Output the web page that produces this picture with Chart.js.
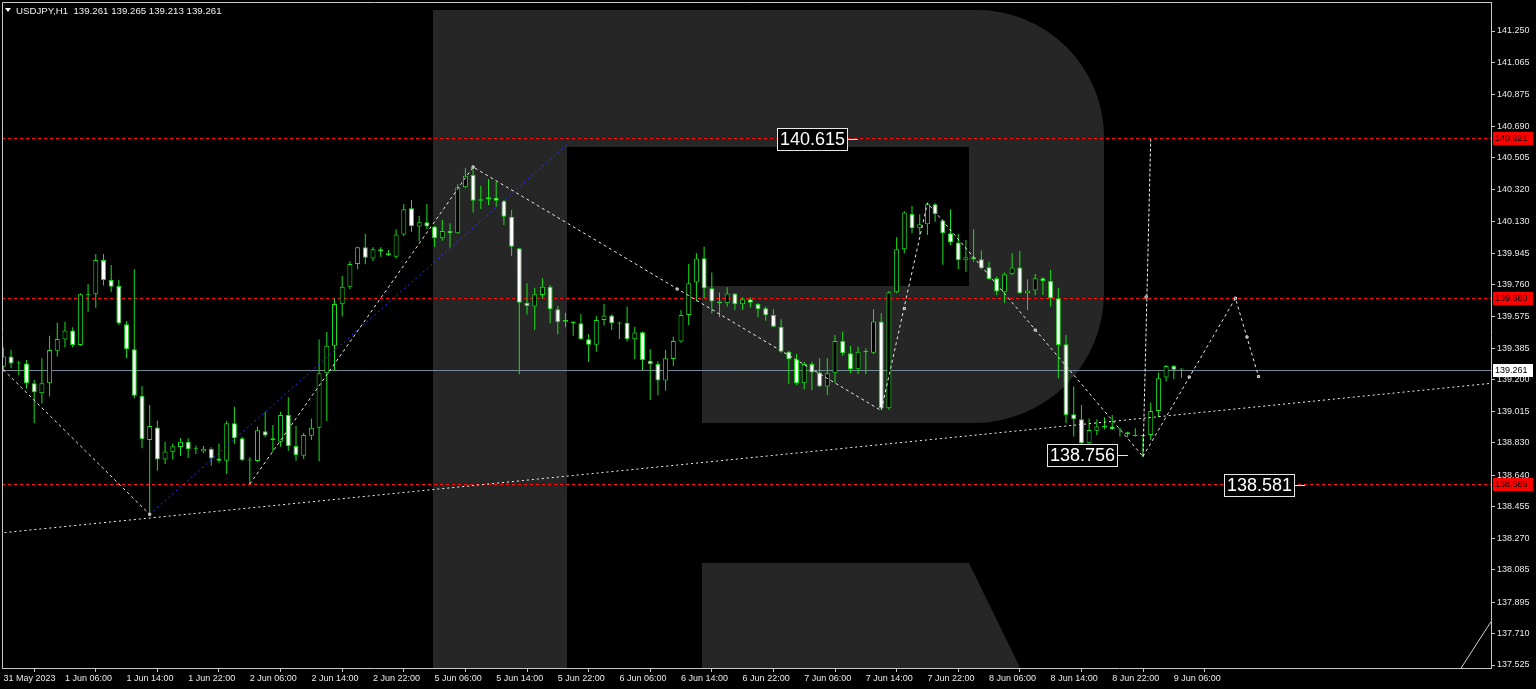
<!DOCTYPE html>
<html>
<head>
<meta charset="utf-8">
<title>USDJPY,H1</title>
<script src="https://cdn.jsdelivr.net/npm/chart.js@4.4.0/dist/chart.umd.min.js"></script>
<style>
  html, body { margin: 0; padding: 0; background: #000; overflow: hidden; }
</style>
</head>
<body>
<canvas id="priceChart" width="1536" height="689"></canvas>
<script>
// H1 candles, bar 0 = 31 May 22:00 (weekend bars skipped)
const open = [
139.278,139.337,139.297,139.297,139.180,139.121,139.180,139.372,139.438,139.491,
139.405,139.703,139.703,139.904,139.787,139.752,139.527,139.380,139.107,138.847,
138.921,138.733,138.778,138.806,138.837,138.794,138.780,138.794,138.739,138.725,
138.945,138.857,138.729,138.724,138.898,138.857,138.837,138.994,138.812,138.755,
138.872,138.919,139.239,139.401,139.644,139.748,139.881,139.979,139.914,139.967,
139.944,139.924,140.055,140.208,140.102,140.126,140.101,140.032,140.075,140.061,
140.332,140.404,140.261,140.261,140.271,140.253,140.159,139.973,139.654,139.631,
139.699,139.748,139.615,139.542,139.540,139.533,139.439,139.407,139.552,139.578,
139.536,139.536,139.439,139.480,139.313,139.294,139.196,139.323,139.425,139.582,
139.772,139.915,139.738,139.660,139.650,139.707,139.644,139.674,139.646,139.621,
139.582,139.513,139.366,139.321,139.180,139.294,139.243,139.161,139.239,139.429,
139.357,139.263,139.366,139.360,139.543,139.033,139.715,139.967,140.175,140.091,
140.115,140.232,140.136,140.062,140.007,139.903,139.921,139.909,139.862,139.797,
139.715,139.821,139.860,139.709,139.725,139.797,139.781,139.680,139.409,138.998,
138.969,138.828,138.902,138.924,138.926,138.910,138.892,138.873,138.871,138.877,
139.018,139.214,139.282,139.261
];
const high = [
139.391,139.376,139.311,139.317,139.199,139.327,139.460,139.538,139.542,139.509,
139.709,139.763,139.940,139.940,139.875,139.787,139.546,139.850,139.164,139.053,
138.961,138.837,138.827,138.857,138.857,138.814,138.812,138.804,138.827,138.959,
139.043,138.866,138.745,138.925,139.013,138.935,139.013,139.098,138.929,138.890,
138.974,139.438,139.481,139.679,139.811,139.899,139.983,140.057,139.979,139.979,
139.963,140.085,140.234,140.257,140.165,140.234,140.104,140.140,140.120,140.349,
140.443,140.457,140.341,140.381,140.365,140.257,140.198,139.973,139.768,139.742,
139.797,139.758,139.634,139.595,139.546,139.587,139.468,139.576,139.646,139.586,
139.542,139.630,139.513,139.484,139.380,139.311,139.376,139.454,139.611,139.881,
139.944,139.983,139.831,139.713,139.744,139.709,139.685,139.685,139.650,139.631,
139.615,139.556,139.372,139.352,139.307,139.307,139.327,139.327,139.464,139.484,
139.400,139.395,139.386,139.615,139.591,139.723,140.038,140.193,140.222,140.173,
140.242,140.238,140.144,140.203,140.058,140.022,140.085,139.960,139.895,139.807,
139.831,139.944,139.958,139.791,139.823,139.803,139.846,139.742,139.464,139.161,
139.053,138.973,138.969,138.981,138.994,138.916,138.896,138.916,138.877,139.067,
139.243,139.288,139.288,139.265
];
const low = [
139.248,139.268,139.229,139.150,138.945,139.062,139.102,139.337,139.391,139.391,
139.399,139.601,139.624,139.754,139.718,139.523,139.327,139.092,138.798,138.406,
138.667,138.706,138.733,138.753,138.741,138.765,138.769,138.696,138.714,138.647,
138.823,138.724,138.588,138.718,138.863,138.778,138.808,138.784,138.725,138.735,
138.847,138.720,138.959,139.254,139.572,139.732,139.850,139.879,139.899,139.924,
139.928,139.913,140.046,140.071,140.016,140.085,139.983,140.018,139.977,140.057,
140.326,140.183,140.204,140.228,140.218,140.110,139.928,139.233,139.585,139.493,
139.679,139.533,139.468,139.509,139.460,139.435,139.307,139.366,139.519,139.493,
139.441,139.425,139.323,139.258,139.082,139.108,139.137,139.282,139.419,139.523,
139.660,139.680,139.591,139.568,139.631,139.611,139.611,139.625,139.568,139.547,
139.509,139.360,139.176,139.170,139.145,139.141,139.157,139.112,139.184,139.341,
139.239,139.235,139.235,139.353,139.024,139.024,139.709,139.944,140.062,140.052,
140.052,140.130,139.876,139.993,139.850,139.836,139.895,139.850,139.787,139.699,
139.654,139.817,139.705,139.611,139.699,139.699,139.631,139.210,138.945,138.867,
138.798,138.793,138.877,138.910,138.906,138.867,138.863,138.867,138.749,138.847,
138.981,139.190,139.206,139.213
];
const close = [
139.337,139.297,139.297,139.180,139.127,139.180,139.376,139.440,139.491,139.405,
139.703,139.701,139.904,139.787,139.748,139.532,139.380,139.107,138.851,138.929,
138.733,138.780,138.810,138.837,138.792,138.793,138.796,138.739,138.725,138.945,
138.857,138.729,138.727,138.904,138.874,138.847,138.994,138.812,138.759,138.876,
138.919,139.239,139.401,139.646,139.748,139.881,139.979,139.918,139.967,139.954,
139.932,140.055,140.202,140.104,140.126,140.102,140.032,140.075,140.061,140.332,
140.400,140.253,140.253,140.273,140.253,140.159,139.983,139.654,139.634,139.703,
139.748,139.615,139.540,139.552,139.533,139.439,139.407,139.552,139.578,139.533,
139.531,139.439,139.478,139.317,139.294,139.196,139.327,139.429,139.582,139.768,
139.914,139.738,139.660,139.650,139.707,139.644,139.674,139.654,139.615,139.580,
139.513,139.366,139.321,139.180,139.294,139.243,139.161,139.239,139.429,139.357,
139.263,139.366,139.364,139.543,139.033,139.715,139.967,140.183,140.091,140.115,
140.232,140.175,140.062,140.007,139.905,139.921,139.909,139.856,139.793,139.719,
139.821,139.860,139.709,139.725,139.797,139.781,139.680,139.405,138.994,138.969,
138.828,138.906,138.926,138.926,138.910,138.908,138.881,138.871,138.873,139.018,
139.210,139.282,139.259,139.261
];

// axis ticks
const yTicks = [141.250,141.065,140.875,140.690,140.505,140.320,140.130,139.945,139.760,139.575,
  139.385,139.200,139.015,138.830,138.640,138.455,138.270,138.085,137.895,137.710,137.525];
const xTickBars = [0,8,16,24,32,40,48,56,64,72,80,88,96,104,112,120,128,136,144,152];
const xLabels = ['31 May 2023','1 Jun 06:00','1 Jun 14:00','1 Jun 22:00','2 Jun 06:00','2 Jun 14:00',
  '2 Jun 22:00','5 Jun 06:00','5 Jun 14:00','5 Jun 22:00','6 Jun 06:00','6 Jun 14:00','6 Jun 22:00',
  '7 Jun 06:00','7 Jun 14:00','7 Jun 22:00','8 Jun 06:00','8 Jun 14:00','8 Jun 22:00','9 Jun 06:00'];

// levels and drawn objects  [bar, price]
const redLevels = [140.621, 139.680, 138.586];
const bidPrice = 139.261;
const zigzagA = [[0, 139.26], [19, 138.41]];
const zigzagB = [[32, 138.588], [61, 140.451], [114, 139.02], [120, 140.24], [148, 138.75]];
const targetLine = [[148, 138.75], [149, 140.615]];
const forecast = [[148, 138.75], [160, 139.68], [163, 139.22]];
const blueLine = [[19, 138.41], [74, 140.615]];
const supportLine = [[-0.5, 138.30], [193.2, 139.18]];
const cornerLine = [[189.2, 137.50], [193.2, 137.78]];
const markerPts = [[19, 138.41], [61, 140.451], [87.5, 139.734], [117, 139.62], [134, 139.493],
  [148.4, 139.687], [154, 139.217], [160, 139.68], [161.5, 139.452], [163, 139.22]];
const labelBars = [111, 146, 169];
const labelPrices = [140.615, 138.756, 138.581];
const header = ['USDJPY,H1', '139.261', '139.265', '139.213', '139.261'];

const xMin = -0.18, xMax = 193.19;
const yMin = 137.5074, yMax = 141.4204;

const GREEN = '#18e018';
const pts = arr => arr.map(([x, y]) => ({x: x, y: y}));

const wicks = [], bulls = [], bears = [];
for (let i = 0; i < open.length; i++) {
    wicks.push({x: i, y: [low[i], high[i]]});
    if (close[i] >= open[i]) bulls.push({x: i, y: [open[i], close[i]]});
    else bears.push({x: i, y: [close[i], open[i]]});
}

function lineSet(data, color, dash, order) {
    return {
        type: 'line', data: pts(data), borderColor: color, borderWidth: 1,
        borderDash: dash, pointRadius: 0, pointHoverRadius: 0, fill: false, tension: 0, order: order
    };
}

const datasets = [];
datasets.push({ type: 'bar', data: wicks, backgroundColor: GREEN, borderWidth: 0,
    barThickness: 1, grouped: false, inflateAmount: 0, order: 4 });
datasets.push({ type: 'bar', data: bulls, backgroundColor: '#000000', borderColor: GREEN,
    borderWidth: 1, borderSkipped: false, barThickness: 5, grouped: false, minBarLength: 1,
    inflateAmount: 0, order: 3 });
datasets.push({ type: 'bar', data: bears, backgroundColor: '#ffffff', borderColor: GREEN,
    borderWidth: 1, borderSkipped: false, barThickness: 5, grouped: false, minBarLength: 1,
    inflateAmount: 0, order: 3 });
datasets.push(lineSet(supportLine, '#f0f0f0', [2, 3], 2));
datasets.push(lineSet(blueLine, '#3030ff', [2, 3], 2));
datasets.push(lineSet(zigzagA, '#e8e8e8', [3, 3], 1));
datasets.push(lineSet(zigzagB, '#e8e8e8', [3, 3], 1));
datasets.push(lineSet(targetLine, '#f0f0f0', [3, 2], 1));
datasets.push(lineSet(forecast, '#e8e8e8', [3, 3], 1));
datasets.push(lineSet(cornerLine, '#d0d0d0', [], 1));
datasets.push({ type: 'scatter', data: pts(markerPts), pointStyle: 'rect', pointRadius: 1.5,
    pointHoverRadius: 1.5, pointBorderColor: '#e0e0e0', pointBackgroundColor: 'rgba(0,0,0,0)',
    pointBorderWidth: 1, order: 0 });

// watermark "R" and horizontal levels behind the candles
const backPlugin = {
    id: 'back',
    beforeDatasetsDraw(chart) {
        const ctx = chart.ctx, a = chart.chartArea, ys = chart.scales.y;
        ctx.save();
        ctx.beginPath();
        ctx.rect(a.left, a.top, a.right - a.left, a.bottom - a.top);
        ctx.clip();
        ctx.fillStyle = '#262626';
        ctx.fillRect(433, 10, 134, 690);
        ctx.beginPath();
        ctx.moveTo(567, 10);
        ctx.lineTo(977, 10);
        ctx.arcTo(1104, 10, 1104, 137, 127);
        ctx.lineTo(1104, 293);
        ctx.arcTo(1104, 423, 977, 423, 130);
        ctx.lineTo(702, 423);
        ctx.lineTo(702, 286);
        ctx.lineTo(969, 286);
        ctx.lineTo(969, 147);
        ctx.lineTo(567, 147);
        ctx.closePath();
        ctx.fill();
        ctx.beginPath();
        ctx.moveTo(702, 563);
        ctx.lineTo(969, 563);
        ctx.lineTo(1031, 690);
        ctx.lineTo(702, 690);
        ctx.closePath();
        ctx.fill();

        ctx.lineWidth = 1;
        const hline = (p, color, dash) => {
            const y = Math.round(ys.getPixelForValue(p)) + 0.5;
            ctx.strokeStyle = color;
            ctx.setLineDash(dash);
            ctx.beginPath();
            ctx.moveTo(a.left, y);
            ctx.lineTo(a.right, y);
            ctx.stroke();
        };
        redLevels.forEach(p => hline(p, '#ff1010', [3, 3]));
        hline(bidPrice, '#778899', []);
        ctx.restore();
    }
};

// price label objects
const labelPlugin = {
    id: 'priceLabels',
    afterDatasetsDraw(chart) {
        const ctx = chart.ctx, xs = chart.scales.x, ys = chart.scales.y;
        ctx.save();
        ctx.font = '18px "Liberation Sans", Arial, sans-serif';
        ctx.textBaseline = 'middle';
        ctx.textAlign = 'center';
        labelBars.forEach((b, k) => {
            const x = Math.round(xs.getPixelForValue(b));
            const y = Math.round(ys.getPixelForValue(labelPrices[k]));
            const txt = labelPrices[k].toFixed(3);
            const w = 71, h = 23;
            const right = x - 10;
            ctx.fillStyle = '#000';
            ctx.fillRect(right - w, y - 11, w, h);
            ctx.strokeStyle = '#e8e8e8';
            ctx.lineWidth = 1;
            ctx.strokeRect(right - w + 0.5, y - 11 + 0.5, w - 1, h - 1);
            ctx.beginPath();
            ctx.moveTo(right, y + 0.5);
            ctx.lineTo(x, y + 0.5);
            ctx.stroke();
            ctx.fillStyle = '#ffffff';
            ctx.fillText(txt, right - w / 2, y + 1);
        });
        ctx.restore();
    }
};

// axis tags, header, frame
const overlayPlugin = {
    id: 'overlay',
    afterDraw(chart) {
        const ctx = chart.ctx, a = chart.chartArea, ys = chart.scales.y;
        ctx.save();
        ctx.strokeStyle = '#c8c8c8';
        ctx.lineWidth = 1;
        ctx.beginPath();
        ctx.moveTo(a.left + 0.5, a.bottom);
        ctx.lineTo(a.left + 0.5, a.top + 0.5);
        ctx.lineTo(a.right, a.top + 0.5);
        ctx.stroke();

        ctx.font = '9px "Liberation Sans", Arial, sans-serif';
        ctx.textBaseline = 'middle';
        ctx.textAlign = 'left';
        const tag = (p, bg, fg) => {
            const y = Math.round(ys.getPixelForValue(p));
            ctx.fillStyle = bg;
            ctx.fillRect(a.right + 2, y - 6, 40, 13);
            ctx.fillStyle = fg;
            ctx.fillText(p.toFixed(3), a.right + 4, y + 1);
        };
        redLevels.forEach(p => tag(p, '#ff0000', '#000000'));
        tag(bidPrice, '#ffffff', '#000000');

        ctx.fillStyle = '#ffffff';
        ctx.beginPath();
        ctx.moveTo(5, 8);
        ctx.lineTo(11, 8);
        ctx.lineTo(8, 12);
        ctx.closePath();
        ctx.fill();
        ctx.fillStyle = '#f0f0f0';
        ctx.font = '9.7px "Liberation Sans", Arial, sans-serif';
        ctx.textBaseline = 'alphabetic';
        ctx.fillText(header[0] + '  ' + header.slice(1).join(' '), 16, 14);
        ctx.restore();
    }
};

Chart.defaults.font.family = '"Liberation Sans", Arial, sans-serif';
Chart.defaults.font.size = 9;
Chart.defaults.color = '#e8e8e8';

const ctx = document.getElementById('priceChart').getContext('2d');
const priceChart = new Chart(ctx, {
    type: 'bar',
    data: { datasets: datasets },
    options: {
        responsive: false,
        devicePixelRatio: 1,
        animation: false,
        events: [],
        layout: { autoPadding: false, padding: { left: 2, top: 2, right: 0, bottom: 0 } },
        plugins: { legend: { display: false }, tooltip: { enabled: false } },
        scales: {
            x: {
                type: 'linear', min: xMin, max: xMax, offset: false,
                afterFit: s => { s.height = 21; s.paddingLeft = 0; s.paddingRight = 0; },
                afterBuildTicks: s => { s.ticks = xTickBars.map(v => ({value: v})); },
                grid: { drawOnChartArea: false, drawTicks: true, tickLength: 4, color: '#c8c8c8' },
                border: { display: true, color: '#c8c8c8' },
                ticks: {
                    align: 'start', padding: 1, maxRotation: 0, autoSkip: false,
                    callback: v => xLabels[xTickBars.indexOf(v)]
                }
            },
            y: {
                type: 'linear', position: 'right', min: yMin, max: yMax,
                afterFit: s => { s.width = 45; s.paddingTop = 0; s.paddingBottom = 0; },
                afterBuildTicks: s => { s.ticks = yTicks.map(v => ({value: v})); },
                grid: { drawOnChartArea: false, drawTicks: true, tickLength: 4, color: '#c8c8c8' },
                border: { display: true, color: '#c8c8c8' },
                ticks: { padding: 2, callback: v => v.toFixed(3) }
            }
        }
    },
    plugins: [backPlugin, labelPlugin, overlayPlugin]
});
</script>
</body>
</html>
